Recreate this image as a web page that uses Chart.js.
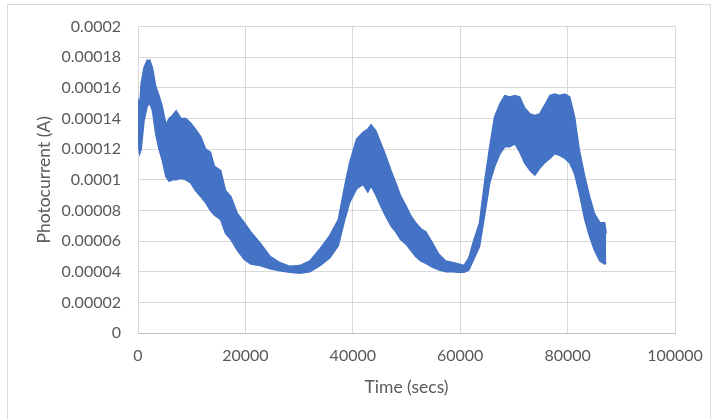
<!DOCTYPE html>
<html>
<head>
<meta charset="utf-8">
<script src="https://cdn.jsdelivr.net/npm/chart.js@4.4.1/dist/chart.umd.min.js"></script>
<style>
  html, body { margin: 0; padding: 0; background: #fff; overflow: hidden; }
  #frame { position: absolute; left: 7px; top: 4px; width: 704px; height: 430px; border: 1px solid #d9d9d9; box-sizing: border-box; }
  #wrap { position: absolute; left: 0; top: 0; width: 717px; height: 419px; }
</style>
</head>
<body>
<div id="frame"></div>
<div id="wrap"><canvas id="c" width="717" height="419"></canvas></div>
<script>
// Sample times (seconds)
const timeSecs = [0, 300, 600, 1100, 1700, 2200, 2700, 3300, 3900, 4500, 5200, 5800, 6400, 7100, 8000, 8900, 9800,
  10700, 11700, 12600, 13500, 14200, 15400, 16300, 17300, 18500, 19800, 21000, 22700, 24600, 26400, 28300, 30100,
  32000, 33900, 35700, 37300, 38500, 39400, 40700, 41900, 42800, 43400, 44300, 45200, 46100, 47100, 48000, 48900,
  49900, 50800, 51700, 52700, 53600, 54800, 56000, 57300, 58600, 59700, 60700, 61600, 62500, 63600, 64600, 65500,
  66400, 67400, 68300, 69200, 70200, 71100, 72000, 73000, 73900, 74800, 75700, 76700, 77600, 78500, 79500, 80400,
  81300, 82200, 83200, 84100, 85000, 86000, 86900, 87200];
// Upper edge of the photocurrent band (A)
const upperA = [15.3e-5, 14.8e-5, 16.3e-5, 17.3e-5, 17.8e-5, 17.8e-5, 17.3e-5, 16.1e-5, 15.5e-5, 14.8e-5, 13.6e-5,
  14.0e-5, 14.2e-5, 14.5e-5, 14.0e-5, 14.0e-5, 13.7e-5, 13.3e-5, 12.8e-5, 12.0e-5, 11.8e-5, 10.9e-5, 10.6e-5,
  9.3e-5, 8.9e-5, 7.8e-5, 7.2e-5, 6.6e-5, 5.9e-5, 5.0e-5, 4.6e-5, 4.35e-5, 4.4e-5, 4.7e-5, 5.5e-5, 6.35e-5,
  7.4e-5, 9.6e-5, 11.1e-5, 12.65e-5, 13.1e-5, 13.3e-5, 13.6e-5, 13.2e-5, 12.4e-5, 11.6e-5, 10.6e-5, 9.8e-5,
  8.95e-5, 8.3e-5, 7.65e-5, 7.2e-5, 6.8e-5, 6.6e-5, 5.9e-5, 5.15e-5, 4.7e-5, 4.6e-5, 4.5e-5, 4.4e-5, 4.9e-5,
  6.0e-5, 7.2e-5, 10.0e-5, 12.15e-5, 14.1e-5, 14.96e-5, 15.5e-5, 15.4e-5, 15.5e-5, 15.4e-5, 14.7e-5, 14.3e-5,
  14.2e-5, 14.3e-5, 14.85e-5, 15.5e-5, 15.6e-5, 15.5e-5, 15.6e-5, 15.4e-5, 14.1e-5, 11.9e-5, 10.2e-5, 8.9e-5,
  7.8e-5, 7.2e-5, 7.2e-5, 6.5e-5];
// Lower edge of the photocurrent band (A)
const lowerA = [12.5e-5, 11.7e-5, 12.0e-5, 13.8e-5, 14.8e-5, 15.0e-5, 14.5e-5, 13.0e-5, 12.0e-5, 11.3e-5, 10.2e-5,
  9.9e-5, 10.0e-5, 10.0e-5, 10.1e-5, 10.0e-5, 9.8e-5, 9.3e-5, 8.9e-5, 8.5e-5, 8.0e-5, 7.7e-5, 7.4e-5,
  6.5e-5, 6.1e-5, 5.4e-5, 4.8e-5, 4.5e-5, 4.4e-5, 4.2e-5, 4.07e-5, 3.96e-5, 3.9e-5, 4.0e-5, 4.4e-5, 4.9e-5,
  5.7e-5, 7.4e-5, 8.5e-5, 9.4e-5, 9.7e-5, 9.2e-5, 9.6e-5, 9.0e-5, 8.3e-5, 7.65e-5, 7.0e-5, 6.6e-5,
  6.1e-5, 5.8e-5, 5.4e-5, 5.0e-5, 4.7e-5, 4.55e-5, 4.3e-5, 4.13e-5, 4.0e-5, 4.0e-5, 3.96e-5, 3.96e-5, 4.1e-5,
  4.8e-5, 5.65e-5, 7.8e-5, 9.8e-5, 10.85e-5, 11.7e-5, 12.15e-5, 12.15e-5, 12.35e-5, 11.8e-5, 11.1e-5, 10.6e-5,
  10.3e-5, 10.75e-5, 11.1e-5, 11.4e-5, 11.7e-5, 11.6e-5, 11.4e-5, 11.1e-5, 10.4e-5, 9.1e-5, 7.4e-5, 6.3e-5,
  5.4e-5, 4.7e-5, 4.5e-5, 4.6e-5];

const xTickValues = [0, 20000, 40000, 60000, 80000, 100000];
const xTickLabels = ['0', '20000', '40000', '60000', '80000', '100000'];
const yTickValues = [0, 0.00002, 0.00004, 0.00006, 0.00008, 0.0001, 0.00012, 0.00014, 0.00016, 0.00018, 0.0002];
const yTickLabels = ['0', '0.00002', '0.00004', '0.00006', '0.00008', '0.0001', '0.00012', '0.00014', '0.00016', '0.00018', '0.0002'];

const upperPts = timeSecs.map((t, i) => ({ x: t, y: upperA[i] }));
const lowerPts = timeSecs.map((t, i) => ({ x: t, y: lowerA[i] }));

const BLUE = '#4472C4';
const GRID = '#d9d9d9';
const TXT = '#595959';
const FONT = 'Lato, "Open Sans", sans-serif';

new Chart(document.getElementById('c'), {
  type: 'scatter',
  data: {
    datasets: [
      { data: upperPts, showLine: true, borderColor: BLUE, backgroundColor: BLUE, borderWidth: 1.5,
        pointRadius: 0, fill: '+1', tension: 0 },
      { data: lowerPts, showLine: true, borderColor: BLUE, backgroundColor: BLUE, borderWidth: 1.5,
        pointRadius: 0, fill: false, tension: 0 }
    ]
  },
  options: {
    responsive: false,
    animation: false,
    layout: { padding: { left: 0, top: 26, right: 42, bottom: 0 } },
    plugins: { legend: { display: false }, tooltip: { enabled: false } },
    scales: {
      x: {
        type: 'linear', min: 0, max: 100000,
        afterBuildTicks: s => { s.ticks = xTickValues.map(v => ({ value: v })); },
        afterFit: s => { s.height = 86; },
        ticks: { callback: (v, i) => xTickLabels[i], color: TXT, font: { family: FONT, size: 16 }, padding: 13, maxRotation: 0 },
        grid: { color: GRID, lineWidth: 1, drawTicks: false },
        border: { color: '#bfbfbf', width: 1 },
        title: { display: true, text: 'Time (secs)', color: TXT, font: { family: FONT, size: 17.5 }, padding: { top: 0, bottom: 21 } }
      },
      y: {
        min: 0, max: 0.0002,
        afterBuildTicks: s => { s.ticks = yTickValues.map(v => ({ value: v })); },
        afterFit: s => { s.width = 138; },
        ticks: { callback: (v, i) => yTickLabels[i], color: TXT, font: { family: FONT, size: 16 }, padding: 17 },
        grid: { color: GRID, lineWidth: 1, drawTicks: false },
        border: { color: GRID, width: 1 },
        title: { display: true, text: 'Photocurrent (A)', color: TXT, font: { family: FONT, size: 17.5 }, padding: { top: 34, bottom: 0 } }
      }
    }
  }
});
</script>
</body>
</html>
